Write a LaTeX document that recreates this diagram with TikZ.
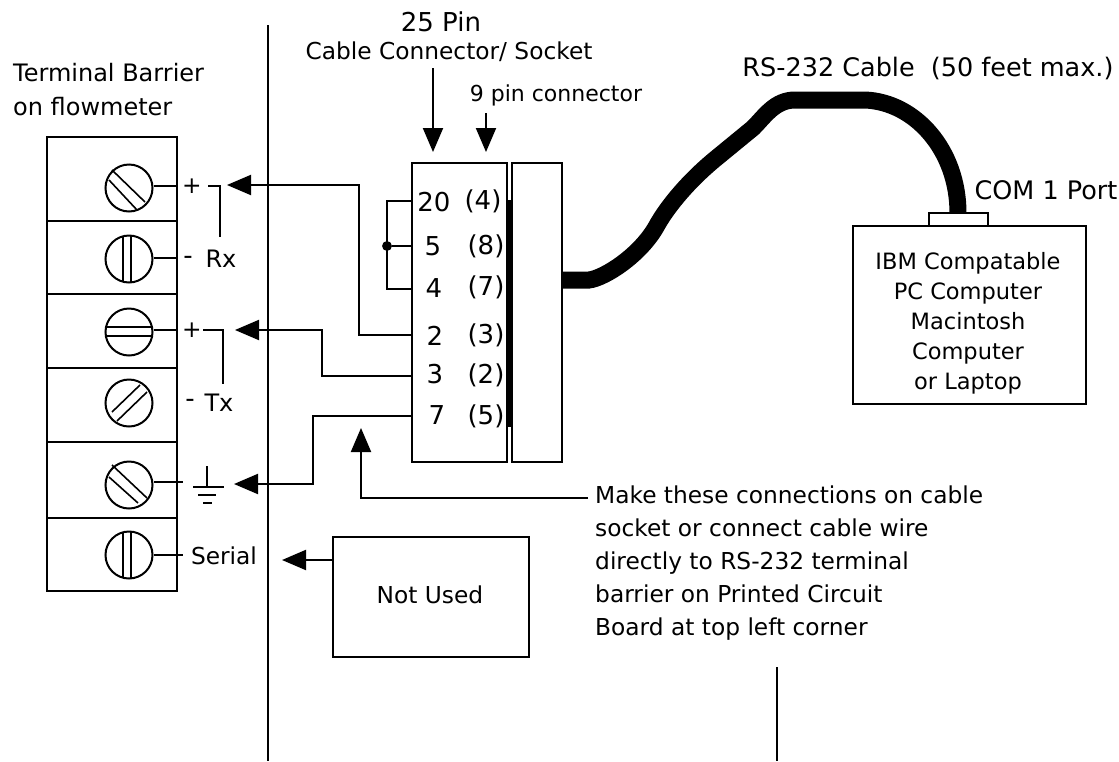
\documentclass[tikz,border=0pt]{standalone}
\usepackage{fontspec}
\setmainfont{DejaVu Sans}
\usetikzlibrary{arrows.meta}
\tikzset{
  wire/.style={line width=2pt},
  arrowwire/.style={line width=2pt,-{Triangle[length=24pt,width=20pt]}},
  screw/.style={circle,draw,line width=2pt,minimum size=47pt,inner sep=0pt,fill=white},
  caption/.style={inner sep=0pt,font=\fontsize{23.3}{30}\selectfont,align=center},
  bigcaption/.style={inner sep=0pt,font=\fontsize{26}{30}\selectfont,align=center},
  box/.style={draw,line width=2pt,inner sep=0pt},
  slot/.style={line width=1.6pt}
}
\begin{document}
\begin{tikzpicture}[x=1pt,y=-1pt]
            \useasboundingbox (0,0) rectangle (1119,761);
            % dividing lines
            \coordinate (ua) at (268,25);
            \coordinate (ub) at (268,761);
            \coordinate (va) at (777,667);
            \coordinate (vb) at (777,761);
            \draw[wire] (ua) -- (ub) (va) -- (vb);

            % terminal barrier
            \node (title) at (13,90) [caption,anchor=west,align=left,font=\fontsize{24}{34}\selectfont] {Terminal Barrier\\on flowmeter};
            \node (barrier) at (112,364) [box,minimum width=130pt,minimum height=454pt] {};
            \draw[wire] (47,221) -- (177,221) (47,294) -- (177,294) (47,368) -- (177,368) (47,442) -- (177,442) (47,518) -- (177,518);

            \node (sa) at (129,188) [screw] {};
            \node (sb) at (129,259) [screw] {};
            \node (sc) at (129,332) [screw] {};
            \node (sd) at (129,403) [screw] {};
            \node (se) at (129,485) [screw] {};
            \node (sf) at (129,555) [screw] {};
            \draw[slot] (112,170) -- (145,202) (109,180) -- (137,210);
            \draw[slot] (123,236) -- (123,282) (131,236) -- (131,282);
            \draw[slot] (106,327) -- (152,327) (106,336) -- (152,336);
            \draw[slot] (112,412) -- (140,385) (117,421) -- (147,392);
            \draw[slot] (112,465) -- (147,498) (109,477) -- (138,503);
            \draw[slot] (123,532) -- (123,578) (131,532) -- (131,578);

            \coordinate (ta) at (177,186);
            \coordinate (tb) at (177,258);
            \coordinate (tc) at (177,330);
            \coordinate (te) at (183,482);
            \coordinate (tf) at (183,555);
            \draw[wire] (sa.east |- ta) -- (ta) (sb.east |- tb) -- (tb) (sc.east |- tc) -- (tc) (se.east |- te) -- (te) (sf.east |- tf) -- (tf);

            % terminal labels
            \node (pa) at (192,186) [caption] {+};
            \node (ma) at (188,260) [bigcaption] {-};
            \node (rx) at (221,259) [caption,font=\fontsize{24}{30}\selectfont] {Rx};
            \node (pb) at (192,330) [caption] {+};
            \node (mb) at (190,403) [bigcaption] {-};
            \node (tx) at (219,403) [caption,font=\fontsize{24}{30}\selectfont] {Tx};
            \node (serial) at (224,556) [caption] {Serial};
            \draw[wire] (208,186) -- (220,186) -- (220,237);
            \draw[wire] (203,330) -- (223,330) -- (223,384);

            % ground
            \coordinate (gnd) at (207,487);
            \draw[wire] (gnd) -- (207,466) (193,487) -- (224,487) (198,495) -- (216,495) (203,503) -- (212,503);

            % connector
            \node (plug) at (459.5,312.5) [box,minimum width=95pt,minimum height=299pt] {};
            \node (shell) at (537,312.5) [box,minimum width=50pt,minimum height=299pt] {};
            \fill (506,200) rectangle (512,427);

            \node (pina) at (434,202) [bigcaption] {20};
            \node (pinb) at (433,246) [bigcaption] {5};
            \node (pinc) at (434,288) [bigcaption] {4};
            \node (pind) at (435,336) [bigcaption] {2};
            \node (pine) at (435,374) [bigcaption] {3};
            \node (pinf) at (437,415) [bigcaption] {7};
            \node (nina) at (483,201) [bigcaption] {(4)};
            \node (ninb) at (486,246) [bigcaption] {(8)};
            \node (ninc) at (486,287) [bigcaption] {(7)};
            \node (nind) at (486,335) [bigcaption] {(3)};
            \node (nine) at (486,375) [bigcaption] {(2)};
            \node (ninf) at (486,416) [bigcaption] {(5)};

            % jumper
            \node (dot) at (387,246) [circle,fill,inner sep=3.5pt] {};
            \draw[wire] (412,201) -- (387,201) -- (387,289) -- (412,289) (dot) -- (412,246);

            % wires to the barrier
            \coordinate (wa) at (227,185);
            \coordinate (wb) at (235,330);
            \coordinate (wc) at (234,484);
            \draw[arrowwire] (412,335) -- (359,335) -- (359,185) -- (wa);
            \draw[arrowwire] (412,376) -- (322,376) -- (322,330) -- (wb);
            \draw[arrowwire] (412,416) -- (313,416) -- (313,484) -- (wc);

            % header labels
            \node (pins) at (441,22) [bigcaption] {25 Pin};
            \node (sock) at (449,52) [caption] {Cable Connector/ Socket};
            \node (ninepin) at (556,95) [caption,font=\fontsize{22}{24}\selectfont] {9 pin connector};
            \coordinate (pt) at (433,152);
            \coordinate (qt) at (486,152);
            \coordinate (ps) at (433,68);
            \coordinate (qs) at (486,113);
            \draw[arrowwire] (ps) -- (pt);
            \draw[arrowwire] (qs) -- (qt);

            % cable
            \node (com) at (958.5,219.5) [box,minimum width=59pt,minimum height=13pt] {};
            \draw[line width=17pt] (shell.east |- 0,280) -- (589,280) .. controls (605,278) and (640,255) .. (656,227) .. controls (668,205) and (690,180) .. (714,160) -- (753,128) .. controls (765,116) and (775,100) .. (795,100) -- (865,100) .. controls (915,102) and (958,150) .. (958,213);
            \node (rs) at (928,68) [caption,font=\fontsize{25.5}{30}\selectfont] {RS-232 Cable\ \ (50 feet max.)};
            \node (port) at (1046,190) [caption,font=\fontsize{25.5}{30}\selectfont] {COM 1 Port};

            % computer
            \node (pc) at (969.5,315) [box,minimum width=233pt,minimum height=178pt] {};
            \node (pctext) at (968,323) [caption,font=\fontsize{22.5}{30}\selectfont] {IBM Compatable\\PC Computer\\Macintosh\\Computer\\or Laptop};

            % not used
            \node (unused) at (431,597) [box,minimum width=196pt,minimum height=120pt] {};
            \node (unusedtext) at (430,595) [caption] {Not Used};
            \coordinate (ut) at (282,560);
            \draw[arrowwire] (unused.west |- ut) -- (ut);

            % note
            \node (note) at (595,563) [caption,align=left,anchor=west,font=\fontsize{23.3}{33}\selectfont] {Make these connections on cable\\socket or connect cable wire\\directly to RS-232 terminal\\barrier on Printed Circuit\\Board at top left corner};
            \coordinate (nt) at (361,428);
            \draw[arrowwire] (588,498) -- (361,498) -- (nt);
\end{tikzpicture}
\end{document}
